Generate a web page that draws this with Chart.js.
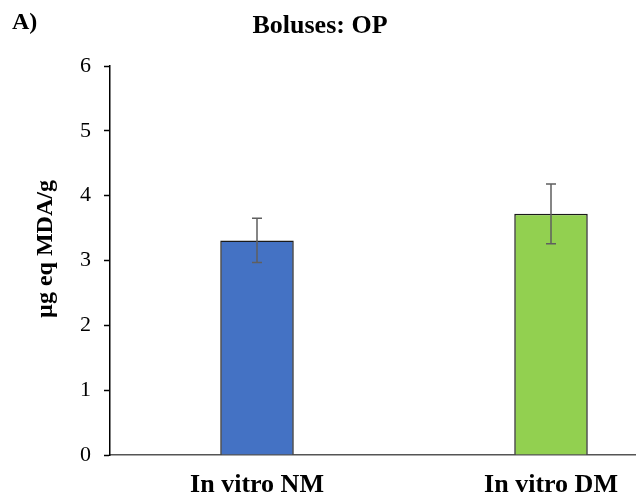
<!DOCTYPE html>
<html>
<head>
<meta charset="utf-8">
<script src="https://cdn.jsdelivr.net/npm/chart.js@4"></script>
<style>
    html, body { margin: 0; padding: 0; overflow: hidden; background: #fff; }
    #wrap { width: 700px; height: 502px; }
</style>
</head>
<body>
<div id="wrap"><canvas id="chart"></canvas></div>
<script>

// groups and measured values (mean +/- sd)
const groups = ['In vitro NM', 'In vitro DM'];
const means = [3.31, 3.72];
const errors = [0.34, 0.46];
const barColors = ['#4472C4', '#92D050'];

const yTicks = [0, 1, 2, 3, 4, 5, 6];

const serif = '"Liberation Serif", "Times New Roman", serif';

// error bars drawn on top of each bar
const errorBarPlugin = {
    id: 'errorBars',
    afterDatasetsDraw(chart) {
        const ctx = chart.ctx;
        const meta = chart.getDatasetMeta(0);
        const y = chart.scales.y;
        ctx.save();
        ctx.strokeStyle = '#5f5f5f';
        ctx.lineWidth = 1.5;
        meta.data.forEach((bar, i) => {
            const top = y.getPixelForValue(means[i] + errors[i]);
            const bottom = y.getPixelForValue(means[i] - errors[i]);
            const cap = 5;
            ctx.beginPath();
            ctx.moveTo(bar.x, top);
            ctx.lineTo(bar.x, bottom);
            ctx.moveTo(bar.x - cap, top);
            ctx.lineTo(bar.x + cap, top);
            ctx.moveTo(bar.x - cap, bottom);
            ctx.lineTo(bar.x + cap, bottom);
            ctx.stroke();
        });
        ctx.restore();
    }
};

// panel letter, heading and the rotated y axis label
const headingPlugin = {
    id: 'heading',
    afterDraw(chart) {
        const ctx = chart.ctx;
        ctx.save();
        ctx.fillStyle = '#000';
        ctx.textBaseline = 'alphabetic';
        ctx.font = 'bold 24px ' + serif;
        ctx.textAlign = 'left';
        ctx.fillText('A)', 12, 29);
        ctx.font = 'bold 26px ' + serif;
        ctx.textAlign = 'center';
        ctx.fillText('Boluses: OP', 320, 33);

        ctx.translate(46, 249);
        ctx.rotate(-Math.PI / 2);
        ctx.textBaseline = 'middle';
        ctx.font = 'bold 24px ' + serif;
        ctx.fillText('µg eq MDA/g', 0, 0);
        ctx.restore();
    }
};

new Chart(document.getElementById('chart'), {
    type: 'bar',
    data: {
        labels: groups,
        datasets: [{
            data: means,
            backgroundColor: barColors,
            borderColor: '#1a1a1a',
            borderWidth: 1.5,
            categoryPercentage: 1,
            barPercentage: 0.25
        }]
    },
    options: {
        responsive: true,
        maintainAspectRatio: false,
        animation: false,
        layout: { padding: { top: 66, right: 2, left: 0, bottom: 0 } },
        plugins: {
            legend: { display: false },
            tooltip: { enabled: false },
            title: { display: false }
        },
        scales: {
            x: {
                grid: { display: false, drawTicks: false },
                border: { color: '#555', width: 1.5 },
                ticks: {
                    color: '#000',
                    padding: 15,
                    font: { family: serif, size: 26, weight: 'bold' }
                },
                afterFit(scale) { scale.height = 47; }
            },
            y: {
                min: 0,
                max: 6,
                afterBuildTicks(scale) { scale.ticks = yTicks.map(v => ({ value: v })); },
                grid: { drawOnChartArea: false, tickLength: 6, color: '#000', tickWidth: 1.5 },
                border: { color: '#000', width: 1.5 },
                ticks: {
                    color: '#000',
                    padding: 13,
                    font: { family: serif, size: 22 }
                },
                afterFit(scale) { scale.width = 110; }
            }
        }
    },
    plugins: [errorBarPlugin, headingPlugin]
});
</script>
</body>
</html>
